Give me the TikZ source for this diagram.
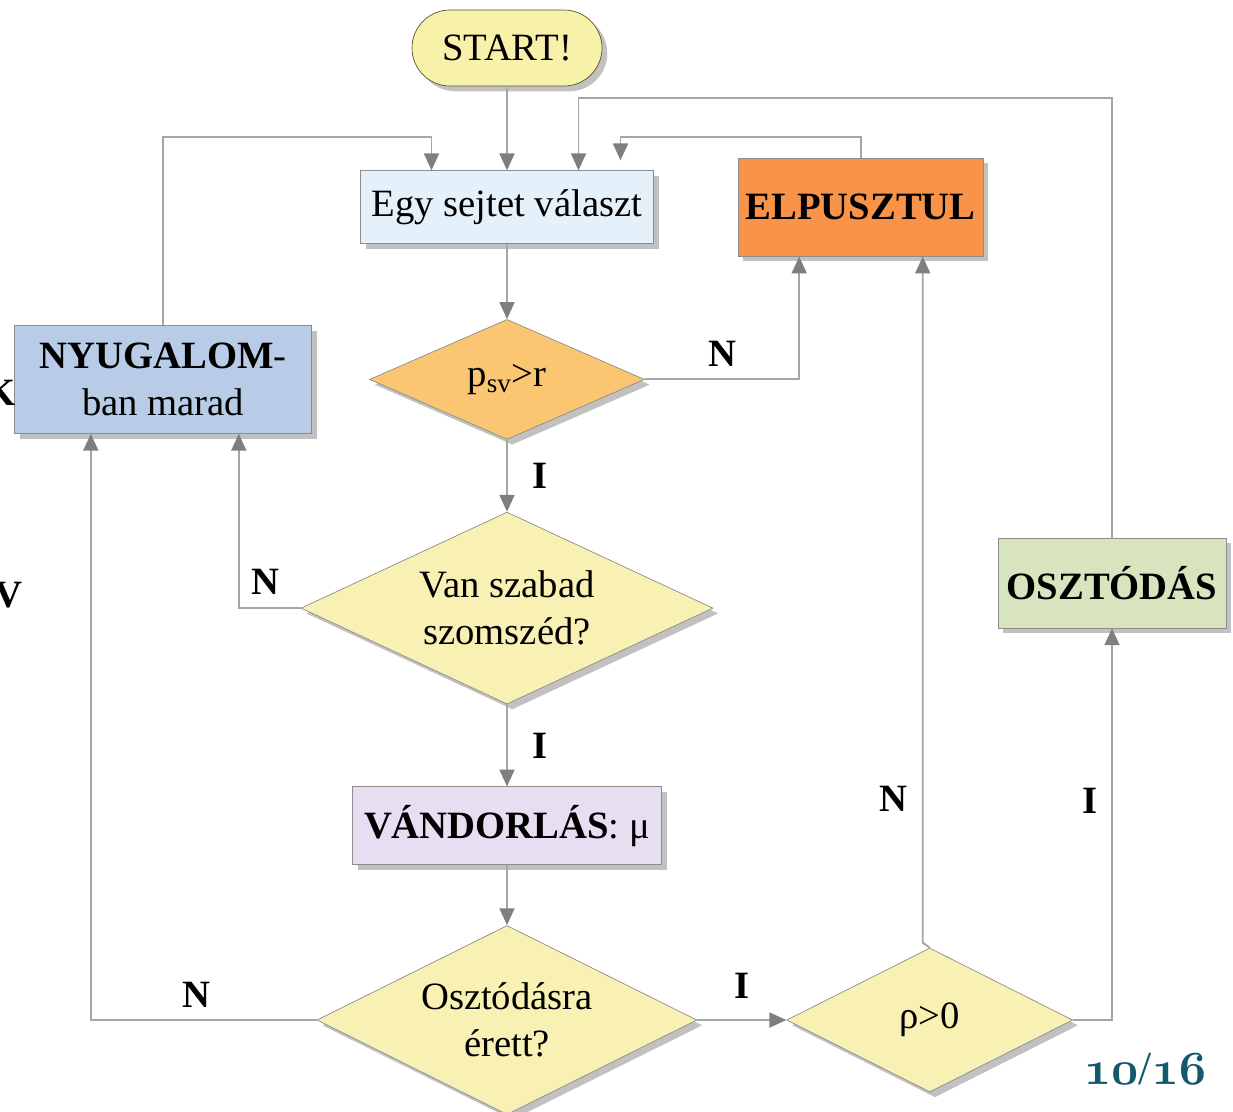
\RequirePackage{fix-cm}
\documentclass[tikz,border=0pt]{standalone}
\usepackage{fontspec}
\setmainfont{Liberation Serif}
\usepackage{xcolor}
\usetikzlibrary{shapes.geometric,arrows.meta,positioning,calc,shadows}
\definecolor{lineGray}{HTML}{A6A6A6}
\definecolor{tipGray}{HTML}{7F7F7F}
\definecolor{edgeGray}{HTML}{8C8C8C}
\definecolor{startFill}{HTML}{F8F1AA}
\definecolor{egyFill}{HTML}{E4F1FB}
\definecolor{elpFill}{HTML}{F9934A}
\definecolor{nyuFill}{HTML}{B9CCE7}
\definecolor{psvFill}{HTML}{FAC671}
\definecolor{askFill}{HTML}{F8F1B3}
\definecolor{vandFill}{HTML}{E7DEF1}
\definecolor{osztFill}{HTML}{D7E4BD}
\definecolor{pageTeal}{HTML}{14586E}
\newcommand{\oldnum}[1]{{\fontencoding{OML}\fontfamily{cmm}\fontseries{b}\fontshape{it}\selectfont #1}}
\tikzset{flow/.style={draw=lineGray,line width=1.1pt,-{Triangle[width=8.5pt,length=9.6pt,color=tipGray]}},
         block/.style={rectangle,draw=edgeGray,inner sep=1pt,align=center,font=\fontsize{22}{27}\selectfont,
                       drop shadow={shadow xshift=3pt,shadow yshift=-3pt,opacity=.35,fill=black!70}},
         terminal/.style={block,draw=black!50!olive,rounded corners=0.76cm,fill=startFill},
         decision/.style={diamond,aspect=2,draw=edgeGray,inner sep=0pt,align=center,font=\fontsize{22}{27}\selectfont,
                          drop shadow={shadow xshift=3pt,shadow yshift=-3pt,opacity=.35,fill=black!70}},
         lbl/.style={inner sep=0pt,font=\fontsize{22}{27}\selectfont\bfseries},
            }
\begin{document}
\begin{tikzpicture}
    \useasboundingbox (0,0) rectangle (24.66,-22.22);

    \node[terminal,minimum width=3.8cm,minimum height=1.52cm] (start) at (10.14,-0.96) {START!};
    \node[block,fill=egyFill,minimum width=5.86cm,minimum height=1.46cm] (egy) [below = 1.68cm of start] {Egy sejtet választ};
    \node[decision,fill=psvFill,minimum width=5.5cm,minimum height=2.4cm] (psv) [below = 1.5cm of egy] {p\textsubscript{sv}>r};
    \node[decision,fill=askFill,minimum width=8.24cm,minimum height=3.84cm] (szab) [below = 1.44cm of psv] {Van szabad\\szomszéd?};
    \node[block,fill=vandFill,minimum width=6.18cm,minimum height=1.56cm] (vand) [below = 1.64cm of szab] {\textbf{VÁNDORLÁS}: μ};
    \node[decision,fill=askFill,minimum width=7.6cm,minimum height=3.78cm] (erett) [below = 1.2cm of vand] {Osztódásra\\érett?};
    \node[decision,fill=askFill,minimum width=5.72cm,minimum height=2.88cm] (rho) [right = 1.78cm of erett] {ρ>0};
    \node[block,fill=elpFill,minimum width=4.9cm,minimum height=1.96cm] (elp) [right = 1.68cm of egy] {\textbf{ELPUSZTUL}};
    \node[block,fill=nyuFill,minimum width=5.94cm,minimum height=2.16cm] (nyu) [left = 1.14cm of psv] {\textbf{NYUGALOM}-\\ban marad};
    \node[block,fill=osztFill,minimum width=4.56cm,minimum height=1.8cm] (oszt) at (22.24,-11.66) {\textbf{OSZTÓDÁS}};

    % cut-off letters at the left edge
    \node[lbl,anchor=base east] (k) at (0.32,-8.10) {K};
    \node[lbl,anchor=base east] (v) at (0.46,-12.14) {V};

    % page number
    \node[inner sep=0pt,text=pageTeal,font=\fontsize{27}{31}\selectfont] (page) at (22.9,-21.38) {\oldnum{10}/\oldnum{16}};

    \path[flow]
    (start) edge (egy)
    (egy) edge (psv)
    (psv) edge node[lbl,right=0.5cm] {I} (szab)
    (szab) edge node[lbl,right=0.5cm] {I} (vand)
    (vand) edge (erett)
    (erett) edge node[lbl,above=0.42cm] {I} (rho);

    % back to the cell choice
    \coordinate (e1) at ($(egy.north)+(-1.51,0)$);
    \coordinate (e3) at ($(egy.north)+(1.43,0)$);
    \coordinate (e4) at ($(egy.north)+(2.27,0.2)$);
    \draw[flow] (nyu.north) |- ($(e1)+(0,0.66)$) -- (e1);
    \draw[flow] (oszt.north) |- ($(e3)+(0,1.44)$) -- (e3);
    \draw[flow] (elp.north) |- ($(e4)+(0,0.46)$) -- (e4);

    % the other branches
    \draw[flow] (psv.east) -| node[lbl,pos=0.25,above=0.24cm] {N} ($(elp.south)+(-1.23,0)$);
    \draw[flow] (szab.west) -| node[lbl,pos=0.5,anchor=south west,xshift=0.24cm,yshift=0.26cm] {N} ($(nyu.south)+(1.51,0)$);
    \draw[flow] (erett.west) -| node[lbl,pos=0.265,above=0.24cm] {N} ($(nyu.south)+(-1.45,0)$);
    \draw[flow] (rho.north) -- ++(-0.14,0.1) coordinate (rj) -- node[lbl,pos=0.21,left=0.28cm] {N} (rj |- elp.south);
    \draw[flow] (rho.east) -| node[lbl,pos=0.78,left=0.28cm] {I} (oszt.south);

\end{tikzpicture}
\end{document}
